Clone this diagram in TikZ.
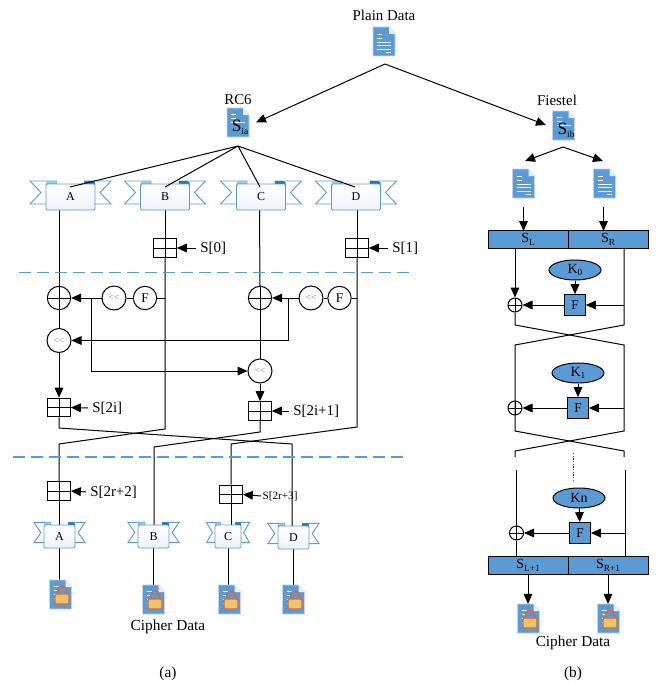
\documentclass[tikz,border=0pt]{standalone}
\usepackage{fontspec}
\setmainfont{Liberation Serif}
\usetikzlibrary{arrows.meta,shapes.geometric,backgrounds}
\definecolor{docblue}{HTML}{5B9BD5}
\definecolor{ribline}{HTML}{5B9BD5}
\definecolor{ribdark}{HTML}{2E75B6}
\definecolor{riblight}{HTML}{EEF3FA}
\definecolor{lockgold}{HTML}{EBC566}
\definecolor{lockred}{HTML}{D8684C}
\definecolor{docedge}{HTML}{C5D3E2}
\tikzset{
  lbl/.style={font=\fontsize{11.2}{13}\selectfont,inner sep=3pt},
  smalllbl/.style={font=\fontsize{8.4}{10}\selectfont,inner sep=1pt},
  conn/.style={draw=black,line width=0.75pt},
  arr/.style={conn,-{Triangle[length=7.5pt,width=6.5pt]}},
  adder/.style={draw=black,line width=0.75pt,minimum width=17pt,minimum height=14pt,inner sep=0pt,
    path picture={\draw[line width=0.75pt] (path picture bounding box.north)--(path picture bounding box.south)
      (path picture bounding box.west)--(path picture bounding box.east);}},
  xorbig/.style={circle,draw=black,line width=0.75pt,minimum size=17.5pt,inner sep=0pt,
    path picture={\draw[line width=0.75pt] (path picture bounding box.north)--(path picture bounding box.south)
      (path picture bounding box.west)--(path picture bounding box.east);}},
  xorsmall/.style={xorbig,minimum size=10.5pt},
  rot/.style={circle,draw=black,fill=white,line width=0.75pt,minimum size=18pt,inner sep=0pt,
    font=\fontsize{7}{8}\selectfont,text=gray},
  ffn/.style={circle,draw=black,fill=white,line width=0.75pt,minimum size=17.5pt,inner sep=0pt,
    font=\fontsize{10}{12}\selectfont},
  fbox/.style={draw=black,fill=docblue,line width=0.75pt,minimum size=15.5pt,inner sep=0pt,
    font=\fontsize{10}{12}\selectfont},
  keyell/.style={ellipse,draw=black,fill=docblue,line width=0.75pt,minimum width=39pt,minimum height=15pt,inner sep=0pt,
    font=\fontsize{10.5}{12}\selectfont},
  barcell/.style={draw=black,fill=docblue,line width=0.75pt,minimum width=60pt,minimum height=13pt,inner sep=0pt,
    font=\fontsize{10.5}{12}\selectfont},
  sepline/.style={draw=ribline,line width=0.85pt,dash pattern=on 9pt off 4.5pt},
  ribbody/.style={draw=ribline,rounded corners=1pt,line width=0.7pt,top color=white,bottom color=riblight,
    inner sep=0pt,font=\fontsize{9}{11}\selectfont},
  doc/.style={minimum width=16pt,minimum height=21.5pt,inner sep=0pt},
}
\newcommand{\ribbon}[7]{% name,label,cx,ytop,halfwidth,unused,height
  \begin{scope}[shift={(#3,#4)},xscale=#5/24.5,yscale=#7/26]
    \draw[ribline,line width=0.7pt,fill=white] (-40.5,-3)--(-14,-3)--(-14,3)--(-24.5,20)--(-40.5,20)--(-29.5,8.5)--cycle;
    \draw[ribline,line width=0.7pt,fill=white] (40.5,-3)--(14,-3)--(14,3)--(24.5,20)--(40.5,20)--(29.5,8.5)--cycle;
    \fill[ribline!60] (-24.5,1)--(-24.5,-1.5)--(-22,-3)--(-14,-3)--(-14,1)--cycle;
    \fill[ribdark] (14,1)--(14,-3)--(22,-3)--(24.5,-1.5)--(24.5,1)--cycle;
    \node[ribbody,minimum width={2*#5*0.75pt},minimum height={#7*0.75pt}] (#1) at (0,13) {#2};
  \end{scope}}
\newcommand{\docbody}[3]{% name,cx,top
  \node[doc] (#1) at (#2,#3+14.5) {};
  \begin{scope}[shift={(#2,#3)}]
    \draw[docedge,line width=0.6pt,fill=docblue] (-11,0)--(5,0)--(11,7)--(11,29)--(-11,29)--cycle;
    \fill[white!85!docblue] (5,0)--(11,7)--(5,7)--cycle;
  \end{scope}}
\newcommand{\docicon}[3]{\docbody{#1}{#2}{#3}
  \begin{scope}[shift={(#2,#3)}]
    \draw[white,line width=0.6pt] (-7,7)--(-2,7) (-7,11)--(-2,11) (-7,15)--(7,15) (-7,18.5)--(7,18.5) (-7,22)--(7,22) (2,25.5)--(7,25.5);
  \end{scope}}
\newcommand{\keydoc}[3]{\docbody{#1}{#2}{#3}
  \begin{scope}[shift={(#2,#3)}]
    \draw[white,line width=0.6pt] (-7,6)--(-2,6) (-7,10)--(-2,10) (-7,14)--(7,14);
  \end{scope}}
\newcommand{\lockicon}[3]{\docbody{#1}{#2}{#3}
  \begin{scope}[shift={(#2,#3)}]
    \draw[white,line width=0.6pt] (-7,6)--(-2,6) (-7,10)--(-2,10) (-7,14)--(-4,14) (-7,18)--(-5,18);
    \draw[lockred,line width=1.2pt] (-2.5,14) -- (-2.5,10) arc[start angle=180,end angle=0,x radius=4,y radius=-4] -- (5.5,14);
    \draw[lockred,line width=0.9pt,fill=lockgold,rounded corners=1pt] (-5.5,14)rectangle(8.5,24);
  \end{scope}}
\newcommand{\subs}[2]{#1{\fontsize{7}{8}\selectfont\raisebox{-2pt}{#2}}}
\begin{document}
\begin{tikzpicture}[x=0.75pt,y=-0.75pt]
\useasboundingbox (0,0) rectangle (656,685);

% ---- top
\node[lbl] (plain) at (384,15) {Plain Data};
\docicon{plaindoc}{384}{27}
\coordinate (apex) at (385,64);
\node[lbl] (rc6) at (238,100) {RC6};
\keydoc{ia}{238}{108}
\node[inner sep=0pt,font=\fontsize{13}{14}\selectfont] (ialbl) at (240,127) {\subs{S}{ia}};
\node[lbl] (fiestel) at (557,100) {Fiestel};
\keydoc{ib}{563.5}{111}
\node[inner sep=0pt,font=\fontsize{13}{14}\selectfont] (iblbl) at (566,130) {\subs{S}{ib}};
\coordinate (rcin) at (256,122.5);
\coordinate (fein) at (546,125);
\draw[arr] (apex)--(rcin);
\draw[arr] (apex)--(fein);

% ---- RC6 upper ribbons
\coordinate (rcapex) at (238,146);
\ribbon{A}{A}{70.5}{184}{24.5}{16}{26}
\ribbon{B}{B}{165}{184}{24.5}{16}{26}
\ribbon{C}{C}{261}{184}{24.5}{16}{26}
\ribbon{D}{D}{356}{184}{24.5}{16}{26}
\coordinate (at) at (70,187);
\coordinate (bt) at (165,187);
\coordinate (ct) at (260,187);
\coordinate (dt) at (355,187);
\draw[conn] (rcapex)--(at) (rcapex)--(bt) (rcapex)--(ct) (rcapex)--(dt);

% ---- adders S[0], S[1]
\node[adder] (add0) at (165,248) {};
\node[lbl,anchor=west] (s0) at (196,248) {S[0]};
\node[adder] (add1) at (357,248) {};
\node[lbl,anchor=west] (s1) at (388,248) {S[1]};
\draw[arr] (s0.west)--(add0.east);
\draw[arr] (s1.west)--(add1.east);

% ---- separators
\coordinate (sepa1) at (19,272.5);
\coordinate (sepa2) at (410,272.5);
\coordinate (sepb1) at (13,457);
\coordinate (sepb2) at (403,457);
\draw[sepline] (sepa1)--(sepa2);
\draw[sepline] (sepb1)--(sepb2);

% ---- round function
\node[xorbig] (x1) at (59,298) {};
\node[xorbig] (x2) at (260,298) {};
\node[rot] (r1) at (114,298) {{<}{<}};
\node[ffn] (f1) at (145,298) {F};
\node[rot] (r2) at (311,298) {{<}{<}};
\node[ffn] (f2) at (339.5,298) {F};
\node[rot] (r3) at (59,340.5) {{<}{<}};
\node[rot] (r4) at (260,371) {{<}{<}};
\node[adder] (a2i) at (59,407.5) {};
\node[lbl,anchor=west] (s2i) at (88,408) {S[2i]};
\node[adder] (a2j) at (260,411) {};
\node[lbl,anchor=west] (s2j) at (289,411) {S[2i+1]};
\coordinate (bj1) at (91,298);
\coordinate (bj2) at (288,298);
\coordinate (tapb) at (165,298);
\coordinate (tapd) at (357,298);
\draw[conn] (f1.west)--(r1.east);
\draw[conn] (tapb)--(f1.east);
\draw[conn] (tapd)--(f2.east);
\draw[conn] (f2.west)--(r2.east);
\draw[arr] (r1.west)--(x1.east);
\draw[arr] (r2.west)--(x2.east);
\draw[arr] (bj1)|-(r4.west);
\draw[arr] (bj2)|-(r3.east);
\draw[arr] (r3.south)--(a2i.north);
\draw[arr] (r4.south)--(a2j.north);
\draw[arr] (s2i.west)--(a2i.east);
\draw[arr] (s2j.west)--(a2j.east);

% ---- lower part of RC6
\node[adder] (a2r) at (59,491) {};
\node[lbl,anchor=west] (s2r) at (86,492) {S[2r+2]};
\node[adder] (a3r) at (231,494.5) {};
\node[smalllbl,anchor=west] (s3r) at (261,496) {S[2r+3]};
\draw[arr] (s2r.west)--(a2r.east);
\draw[arr] (s3r.west)--(a3r.east);
\ribbon{A2}{A}{59.5}{525}{15.5}{11}{23}
\ribbon{B2}{B}{153.5}{525}{15.5}{11}{23}
\ribbon{C2}{C}{228}{525}{13}{9}{23}
\ribbon{D2}{D}{293.5}{526}{15.5}{11}{23}
\lockicon{la}{60.5}{580}
\lockicon{lb}{153.5}{585}
\lockicon{lc}{229.5}{585}
\lockicon{ld}{293.5}{585}
\node[lbl,font=\fontsize{11.5}{13}\selectfont] (ciphera) at (168,627) {Cipher Data};
\node[lbl,font=\fontsize{11.5}{13}\selectfont] (capa) at (168,674) {(a)};

\begin{scope}[on background layer]
  \draw[conn] (59,210)--(x1.north);
  \draw[conn] (x1.south)--(r3.north);
  \draw[conn] (a2i.south)--(59,428)--(292,444)--(292,526);
  \draw[conn] (B.south)--(add0.north);
  \draw[conn] (add0.south)--(165,429)--(59,444)--(a2r.north);
  \draw[conn] (a2r.south)--(59,525);
  \draw[conn] (259.5,210)--(x2.north);
  \draw[conn] (x2.south)--(r4.north);
  \draw[conn] (a2j.south)--(260,432)--(154,447)--(154,525);
  \draw[conn] (357,210)--(add1.north);
  \draw[conn] (add1.south)--(357,427)--(231,444)--(a3r.north);
  \draw[conn] (a3r.south)--(231,525);
  \draw[conn] (A2.south)--(A2.south |- la.north);
  \draw[conn] (B2.south)--(B2.south |- lb.north);
  \draw[conn] (C2.south)--(C2.south |- lc.north);
  \draw[conn] (D2.south)--(D2.south |- ld.north);
\end{scope}

% ---- Feistel
\coordinate (feapex) at (563,147);
\coordinate (fel) at (525,161);
\coordinate (fer) at (603,161);
\draw[arr] (feapex)--(fel);
\draw[arr] (feapex)--(fer);
\docicon{dl}{523.5}{169}
\docicon{dr}{604.5}{169}
\node[barcell] (SL) at (528,239.5) {\subs{S}{L}};
\node[barcell] (SR) at (608,239.5) {\subs{S}{R}};
\coordinate (dlo) at (523.5,207);
\coordinate (dro) at (603.5,207);
\coordinate (dli) at (523.5,231);
\coordinate (dri) at (603.5,231);
\draw[arr] (dlo)--(dli);
\draw[arr] (dro)--(dri);
\node[keyell] (k0) at (575,270) {\subs{K}{0}};
\node[fbox] (f0) at (575,305) {F};
\node[xorsmall] (fx0) at (515,305) {};
\node[keyell] (k1) at (578,373) {\subs{K}{1}};
\node[fbox] (fb1) at (578,408) {F};
\node[xorsmall] (fx1) at (515,408) {};
\node[keyell] (kn) at (579,498) {Kn};
\node[fbox] (fn) at (580,533) {F};
\node[xorsmall] (fxn) at (516.5,533) {};
\node[barcell] (SL1) at (528,565.5) {\subs{S}{L+1}};
\node[barcell] (SR1) at (608,565.5) {\subs{S}{R+1}};
\coordinate (tap0) at (624,305);
\coordinate (tap1) at (624,408);
\coordinate (tapn) at (625,533);
\draw[arr] (k0)--(f0);
\draw[arr] (k1)--(fb1);
\draw[arr] (kn)--(fn);
\draw[arr] (tap0)--(f0.east);
\draw[arr] (tap1)--(fb1.east);
\draw[arr] (tapn)--(fn.east);
\draw[arr] (f0.west)--(fx0.east);
\draw[arr] (fb1.west)--(fx1.east);
\draw[arr] (fn.west)--(fxn.east);
\draw[arr] (515,248)--(fx0.north);
\draw[conn] (fx0.south)--(515,325)--(624,345)--(624,431)--(515,451)--(515,457);
\draw[conn] (624,248)--(624,325)--(515,345)--(515,431)--(624,451)--(624,457);
\draw[conn] (516.5,470)--(fxn.north);
\draw[conn] (fxn.south)--(516.5,557);
\draw[conn] (625,470)--(625,557);
\coordinate (dot1) at (573.7,453);
\coordinate (dot2) at (573.7,480);
\draw[black!70,line width=0.75pt,dash pattern=on 1pt off 1pt] (dot1)--(dot2);
\lockicon{l5}{528.5}{604}
\lockicon{l6}{608.5}{604}
\coordinate (sl1o) at (528,574);
\coordinate (sr1o) at (608,574);
\draw[arr] (sl1o)--(sl1o |- l5.north);
\draw[arr] (sr1o)--(sr1o |- l6.north);
\node[lbl,font=\fontsize{11.5}{13}\selectfont] (cipherb) at (573,643) {Cipher Data};
\node[lbl,font=\fontsize{11.5}{13}\selectfont] (capb) at (573,674) {(b)};
\end{tikzpicture}
\end{document}
